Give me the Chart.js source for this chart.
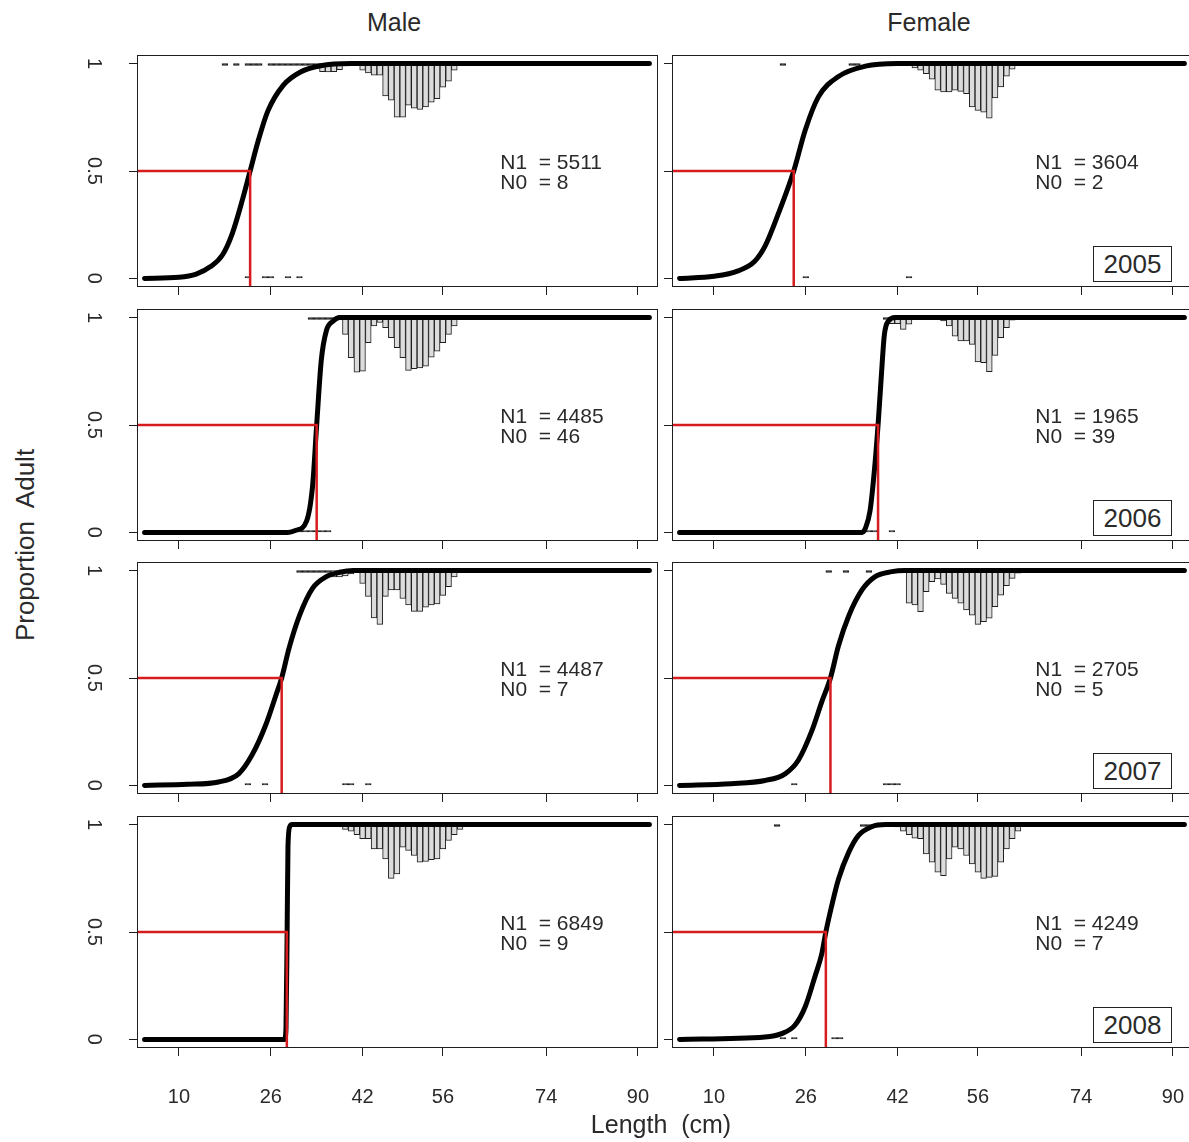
<!DOCTYPE html>
<html>
<head>
<meta charset="utf-8">
<title>Maturity ogives by sex and year</title>
<script src="https://cdn.jsdelivr.net/npm/chart.js@4.4.0/dist/chart.umd.min.js"></script>
<style>
  html, body { margin: 0; padding: 0; overflow: hidden; background: #fff; }
  body { width: 1189px; height: 1142px; position: relative;
         font-family: "Liberation Sans", Arial, Helvetica, sans-serif; color: #2a2a2a; }
  canvas { position: absolute; }
  .lab { position: absolute; white-space: pre; transform: translate(-50%, -50%); }
  .title { font-size: 25px; }
  .ylab { font-size: 26px; transform: translate(-50%, -50%) rotate(-90deg); }
  .nlab { position: absolute; white-space: pre; font-size: 21px; line-height: 20px; }
  .year { position: absolute; box-sizing: border-box; border: 1px solid #222; background: #fff;
          font-size: 26px; text-align: center; }
</style>
</head>
<body>
<script>
// axis set-up shared by all panels
const xTicks = [10, 26, 42, 56, 74, 90];
const yTicks = [0, 0.5, 1];
const years = ['2005', '2006', '2007', '2008'];
const sexes = ['Male', 'Female'];

const maleN1 = [5511, 4485, 4487, 6849];
const maleN0 = [8, 46, 7, 9];
const femaleN1 = [3604, 1965, 2705, 4249];
const femaleN0 = [2, 39, 5, 7];

// length at 50% adult
const maleL50 = [22.4, 34.0, 27.9, 28.8];
const femaleL50 = [23.9, 38.6, 30.3, 29.5];

// fitted ogives, [length, proportion adult]
const ogiveM05 = [[4, 0], [10, 0.005], [13, 0.02], [15.5, 0.055], [17.6, 0.11], [19.3, 0.21], [21.1, 0.37], [22.4, 0.5], [23.8, 0.64], [25.5, 0.78], [28.2, 0.9], [31.1, 0.96], [34.7, 0.99], [40, 1], [92, 1]];
const ogiveF05 = [[4, 0], [10, 0.01], [14.2, 0.035], [17.1, 0.08], [18.9, 0.15], [21.2, 0.3], [23.9, 0.5], [25.9, 0.69], [28.2, 0.845], [31.7, 0.94], [36.4, 0.988], [42, 1], [92, 1]];
const ogiveM06 = [[4, 0], [29, 0], [30.4, 0.01], [32.2, 0.05], [33.3, 0.22], [34, 0.5], [34.8, 0.8], [35.7, 0.94], [36.9, 0.984], [38, 1], [92, 1]];
const ogiveF06 = [[4, 0], [35.8, 0], [36.4, 0.02], [37.2, 0.1], [38, 0.3], [38.6, 0.5], [39.15, 0.72], [39.7, 0.92], [40.4, 0.984], [41.6, 1], [92, 1]];
const ogiveM07 = [[4, 0], [11.5, 0.005], [16.9, 0.016], [20.4, 0.054], [22.7, 0.14], [25.1, 0.28], [26.9, 0.42], [27.9, 0.5], [29.2, 0.64], [31, 0.79], [33.3, 0.918], [35.7, 0.972], [38, 0.992], [40.4, 1], [92, 1]];
const ogiveF07 = [[4, 0], [13, 0.008], [18.9, 0.023], [22.4, 0.054], [24.7, 0.117], [27, 0.25], [28.8, 0.39], [30.3, 0.5], [31.7, 0.65], [33.5, 0.79], [35.8, 0.91], [38.1, 0.972], [41, 0.995], [43.3, 1], [92, 1]];
const ogiveM08 = [[4, 0], [28.4, 0], [28.65, 0.05], [28.85, 0.5], [29, 0.9], [29.3, 0.99], [29.7, 1], [92, 1]];
const ogiveF08 = [[4, 0], [18.9, 0.011], [21.8, 0.027], [24.1, 0.066], [25.9, 0.152], [27.6, 0.293], [28.8, 0.4], [29.5, 0.5], [30.5, 0.62], [31.7, 0.746], [33.5, 0.872], [35.2, 0.95], [37.5, 0.99], [39.9, 1], [92, 1]];

// adult length bars hanging from 1 (1 cm bins): first bin, then bar bottoms
const adultM05Start = 35;
const adultM05 = [0.962, 0.961, 0.962, 0.972, 0.995, 0.995, 0.99, 0.969, 0.956, 0.946, 0.946, 0.85, 0.83, 0.751, 0.751, 0.806, 0.793, 0.787, 0.798, 0.82, 0.837, 0.89, 0.918, 0.969];
const adultF05Start = 43;
const adultF05 = [0.995, 0.99, 0.98, 0.969, 0.953, 0.927, 0.876, 0.868, 0.868, 0.876, 0.871, 0.86, 0.798, 0.782, 0.774, 0.746, 0.84, 0.891, 0.942, 0.974];
const adultM06Start = 39;
const adultM06 = [0.922, 0.813, 0.746, 0.751, 0.883, 0.961, 0.977, 0.953, 0.907, 0.86, 0.813, 0.754, 0.762, 0.766, 0.774, 0.816, 0.844, 0.883, 0.922, 0.961];
const adultF06Start = 41;
const adultF06 = [0.972, 0.972, 0.945, 0.969, 0.99, 0.99, 0.99, 0.99, 0.99, 0.984, 0.961, 0.914, 0.891, 0.891, 0.875, 0.794, 0.79, 0.748, 0.824, 0.907, 0.953, 0.988];
const adultM07Start = 37;
const adultM07 = [0.97, 0.97, 0.975, 0.985, 0.99, 0.94, 0.88, 0.78, 0.75, 0.88, 0.91, 0.91, 0.87, 0.84, 0.81, 0.81, 0.83, 0.84, 0.845, 0.885, 0.925, 0.97];
const adultF07Start = 43;
const adultF07 = [0.99, 0.848, 0.84, 0.809, 0.902, 0.949, 0.961, 0.936, 0.894, 0.871, 0.848, 0.817, 0.793, 0.75, 0.762, 0.778, 0.832, 0.886, 0.93, 0.964, 0.988];
const adultM08Start = 38;
const adultM08 = [0.99, 0.978, 0.969, 0.953, 0.934, 0.934, 0.887, 0.887, 0.84, 0.75, 0.77, 0.895, 0.88, 0.856, 0.825, 0.828, 0.837, 0.84, 0.887, 0.926, 0.953, 0.978];
const adultF08Start = 42;
const adultF08 = [0.989, 0.969, 0.953, 0.937, 0.934, 0.864, 0.825, 0.778, 0.762, 0.84, 0.895, 0.887, 0.856, 0.817, 0.778, 0.75, 0.754, 0.759, 0.825, 0.887, 0.934, 0.969];

// bins holding only one or two fish: adults at the top edge, juveniles at the bottom
const dashTopM05 = [18, 20, 22, 23, 24, 26, 27, 28, 29, 30, 31, 32, 33, 34];
const dashBotM05 = [22, 25, 26, 29, 31];
const dashTopF05 = [22, 34, 35];
const dashBotF05 = [26, 44];
const dashTopM06 = [33, 34, 35, 36, 37, 38];
const dashBotM06 = [30, 31, 32, 33, 34, 35, 36];
const dashTopF06 = [40];
const dashBotF06 = [37, 38, 41];
const dashTopM07 = [31, 32, 33, 34, 35, 36];
const dashBotM07 = [22, 25, 39, 40, 43];
const dashTopF07 = [30, 33, 37];
const dashBotF07 = [24, 40, 41, 42];
const dashTopM08 = [];
const dashBotM08 = [26, 27, 28];
const dashTopF08 = [21, 36, 37];
const dashBotF08 = [22, 24, 31, 32];

const X_MIN = 2.68, X_MAX = 93.5, Y_MIN = -0.04, Y_MAX = 1.04;
const DASH = 0.009;
const N_AT_X = 66, N_AT_Y = 0.529;

const ink = '#1e1e1e';
const red = 'rgb(214, 28, 30)';
const family = '"Liberation Sans", Arial, Helvetica, sans-serif';

const boxLeft = [137, 672];
const boxTop = [55, 309, 562, 816];
const boxW = 521, boxH = 232;

const panels = [
  [ogiveM05, adultM05Start, adultM05, dashTopM05, dashBotM05],
  [ogiveF05, adultF05Start, adultF05, dashTopF05, dashBotF05],
  [ogiveM06, adultM06Start, adultM06, dashTopM06, dashBotM06],
  [ogiveF06, adultF06Start, adultF06, dashTopF06, dashBotF06],
  [ogiveM07, adultM07Start, adultM07, dashTopM07, dashBotM07],
  [ogiveF07, adultF07Start, adultF07, dashTopF07, dashBotF07],
  [ogiveM08, adultM08Start, adultM08, dashTopM08, dashBotM08],
  [ogiveF08, adultF08Start, adultF08, dashTopF08, dashBotF08]
].map(([ogive, start, adult, top, bot], i) => {
  const col = i % 2, row = Math.floor(i / 2);
  return {
    col, row, ogive, start, adult, top, bot,
    l50: col === 0 ? maleL50[row] : femaleL50[row],
    n1: col === 0 ? maleN1[row] : femaleN1[row],
    n0: col === 0 ? maleN0[row] : femaleN0[row]
  };
});

// plot box around each panel
const frame = {
  id: 'frame',
  afterDatasetsDraw(chart) {
    const { ctx, chartArea: a } = chart;
    ctx.save();
    ctx.strokeStyle = ink;
    ctx.lineWidth = 1;
    ctx.strokeRect(a.left + 0.5, a.top + 0.5, a.right - a.left - 1, a.bottom - a.top - 1);
    ctx.restore();
  }
};

function addLabel(cls, text, x, y) {
  const d = document.createElement('div');
  d.className = cls;
  d.textContent = text;
  d.style.left = x + 'px';
  d.style.top = y + 'px';
  document.body.appendChild(d);
  return d;
}

panels.forEach(p => {
  const leftCol = p.col === 0, bottomRow = p.row === 3;
  const yW = leftCol ? 60 : 10;
  const xH = bottomRow ? 68 : 12;
  const w = yW + boxW + 4, h = 4 + boxH + xH;
  const cLeft = boxLeft[p.col] - yW, cTop = boxTop[p.row] - 4;

  const canvas = document.createElement('canvas');
  canvas.width = w;
  canvas.height = h;
  canvas.style.left = cLeft + 'px';
  canvas.style.top = cTop + 'px';
  canvas.style.width = w + 'px';
  canvas.style.height = h + 'px';
  document.body.appendChild(canvas);

  const hanging = p.adult.map((v, i) => ({ x: p.start + i, y: [v, 1] }));
  const dashes = p.top.map(b => ({ x: b, y: [1 - DASH, 1] }))
    .concat(p.bot.map(b => ({ x: b, y: [0, DASH] })));
  const curve = p.ogive.map(([x, y]) => ({ x, y }));
  const l50Line = [{ x: X_MIN, y: 0.5 }, { x: p.l50, y: 0.5 }, { x: p.l50, y: Y_MIN }];

  const barStyle = {
    type: 'bar', borderWidth: 1, borderColor: ink, borderSkipped: false,
    grouped: false, barPercentage: 1, categoryPercentage: 1
  };

  const chart = new Chart(canvas, {
    type: 'bar',
    data: {
      datasets: [
        Object.assign({ data: hanging, backgroundColor: '#dcdcdc', order: 3 }, barStyle),
        Object.assign({ data: dashes, backgroundColor: ink, order: 4 }, barStyle),
        {
          type: 'line', data: curve, borderColor: '#000', borderWidth: 5,
          pointRadius: 0, cubicInterpolationMode: 'monotone', borderCapStyle: 'round', order: 2
        },
        {
          type: 'line', data: l50Line, borderColor: red, borderWidth: 2.5,
          pointRadius: 0, tension: 0, order: 1
        }
      ]
    },
    options: {
      responsive: false,
      animation: false,
      devicePixelRatio: 1,
      events: [],
      layout: { padding: { left: 0, top: 4, right: 4, bottom: 0 } },
      plugins: { legend: { display: false }, tooltip: { enabled: false } },
      scales: {
        x: {
          type: 'linear', min: X_MIN, max: X_MAX, offset: false,
          afterBuildTicks: ax => { ax.ticks = xTicks.map(v => ({ value: v })); },
          afterFit: ax => { ax.height = xH; ax.paddingLeft = 0; ax.paddingRight = 0; },
          border: { display: false },
          grid: { offset: false, drawOnChartArea: false, drawTicks: true, tickLength: 8, color: ink, lineWidth: 1 },
          ticks: {
            display: bottomRow, autoSkip: false, maxRotation: 0, padding: 29,
            color: '#2a2a2a', font: { family, size: 20 }
          }
        },
        y: {
          type: 'linear', min: Y_MIN, max: Y_MAX,
          afterBuildTicks: ax => { ax.ticks = yTicks.map(v => ({ value: v })); },
          afterFit: ax => { ax.width = yW; ax.paddingTop = 0; ax.paddingBottom = 0; },
          border: { display: false },
          grid: { drawOnChartArea: false, drawTicks: true, tickLength: 8, color: ink, lineWidth: 1 },
          ticks: {
            display: leftCol, autoSkip: false, minRotation: -90, crossAlign: 'center', padding: 22,
            color: '#2a2a2a', font: { family, size: 20 },
            callback: v => String(v)
          }
        }
      }
    },
    plugins: [frame]
  });

  const xs = chart.scales.x, ys = chart.scales.y;
  addLabel('nlab', `N1  = ${p.n1}\nN0  = ${p.n0}`,
    cLeft + xs.getPixelForValue(N_AT_X), cTop + ys.getPixelForValue(N_AT_Y) - 13);

  if (p.col === 1) {
    const yb = document.createElement('div');
    yb.className = 'year';
    yb.textContent = years[p.row];
    const bw = 79, bh = 36;
    yb.style.width = bw + 'px';
    yb.style.height = bh + 'px';
    yb.style.lineHeight = (bh - 2) + 'px';
    yb.style.left = (cLeft + chart.chartArea.right - 21 - bw) + 'px';
    yb.style.top = (cTop + ys.getPixelForValue(0) - bh + 4) + 'px';
    document.body.appendChild(yb);
  }
});

addLabel('lab title', sexes[0], 394, 22);
addLabel('lab title', sexes[1], 929, 22);
addLabel('lab ylab', 'Proportion  Adult', 25, 545);
addLabel('lab title', 'Length  (cm)', 661, 1124);
</script>
</body>
</html>
